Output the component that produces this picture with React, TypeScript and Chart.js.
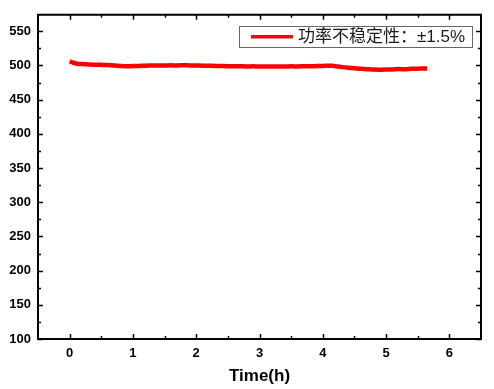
import React, { useEffect, useRef } from "react";
import { Chart, registerables } from "chart.js";

Chart.register(...registerables);

const TIME_H = [
  0.0, 0.03, 0.07, 0.12, 0.2, 0.3, 0.4, 0.5, 0.6, 0.7, 0.8, 0.9, 1.0, 1.1, 1.2,
  1.3, 1.4, 1.5, 1.6, 1.7, 1.8, 1.9, 2.0, 2.1, 2.2, 2.3, 2.4, 2.5, 2.6, 2.7,
  2.8, 2.9, 3.0, 3.1, 3.2, 3.3, 3.4, 3.5, 3.6, 3.7, 3.8, 3.9, 4.0, 4.1, 4.15,
  4.2, 4.3, 4.4, 4.5, 4.6, 4.7, 4.8, 4.9, 5.0, 5.1, 5.2, 5.3, 5.4, 5.5, 5.6,
  5.65,
];
const POWER = [
  506, 505, 503.5, 502.5, 502, 501.5, 501, 500.8, 500.5, 499.8, 499.2, 498.8,
  499, 499.3, 499.6, 499.8, 500, 500, 500.1, 500, 500.2, 500, 499.8, 499.6,
  499.5, 499.3, 499, 498.8, 498.9, 498.7, 498.5, 498.6, 498.4, 498.5, 498.3,
  498.5, 498.4, 498.6, 498.5, 498.7, 498.8, 499, 499.2, 499.5, 499.4, 498.8,
  497.5, 496.5, 495.8, 495, 494.5, 494, 493.8, 493.9, 494.2, 494.6, 494.5, 495,
  495.3, 495.6, 495.5,
];
const SERIES_LABEL = "功率不稳定性：±1.5%";
const X_TICKS = [0, 1, 2, 3, 4, 5, 6];
const X_MINOR = [-0.5, 0.5, 1.5, 2.5, 3.5, 4.5, 5.5, 6.5];
const Y_TICKS = [100, 150, 200, 250, 300, 350, 400, 450, 500, 550];
const Y_MINOR = [125, 175, 225, 275, 325, 375, 425, 475, 525, 575];
const X_TITLE = "Time(h)";

const TICK_FONT = { family: "'Liberation Sans', Arial, sans-serif", size: 13, weight: "bold" as const };

const framePlugin = {
  id: "frameTicks",
  afterDraw(chart: any) {
    const { ctx, chartArea } = chart;
    const { left, right, top, bottom } = chartArea;
    const xs = chart.scales.x;
    const ys = chart.scales.y;
    ctx.save();
    ctx.strokeStyle = "#000";
    ctx.lineWidth = 2;
    ctx.beginPath();
    ctx.moveTo(left - 1, top);
    ctx.lineTo(right, top);
    ctx.lineTo(right, bottom + 1);
    ctx.stroke();
    ctx.lineWidth = 1.5;
    ctx.beginPath();
    const major = 5;
    const minor = 3;
    X_TICKS.forEach((v) => {
      const p = Math.round(xs.getPixelForValue(v)) + 0.5;
      ctx.moveTo(p, bottom);
      ctx.lineTo(p, bottom - major);
      ctx.moveTo(p, top);
      ctx.lineTo(p, top + major);
    });
    X_MINOR.forEach((v) => {
      const p = Math.round(xs.getPixelForValue(v)) + 0.5;
      if (p <= left + 1 || p >= right - 1) return;
      ctx.moveTo(p, bottom);
      ctx.lineTo(p, bottom - minor);
      ctx.moveTo(p, top);
      ctx.lineTo(p, top + minor);
    });
    Y_TICKS.forEach((v) => {
      const p = Math.round(ys.getPixelForValue(v)) + 0.5;
      ctx.moveTo(left, p);
      ctx.lineTo(left + major, p);
      ctx.moveTo(right, p);
      ctx.lineTo(right - major, p);
    });
    Y_MINOR.forEach((v) => {
      const p = Math.round(ys.getPixelForValue(v)) + 0.5;
      if (p <= top + 1 || p >= bottom - 1) return;
      ctx.moveTo(left, p);
      ctx.lineTo(left + minor, p);
      ctx.moveTo(right, p);
      ctx.lineTo(right - minor, p);
    });
    ctx.stroke();
    ctx.restore();
  },
};

const legendPlugin = {
  id: "insideLegend",
  afterDraw(chart: any) {
    const { ctx, chartArea } = chart;
    const ds = chart.data.datasets[0];
    ctx.save();
    ctx.font = "17px 'Liberation Sans', Arial, 'Noto Sans CJK SC', sans-serif";
    const tw = ctx.measureText(ds.label).width;
    const boxRight = chartArea.right - 9;
    const boxTop = chartArea.top + 11;
    const boxH = 21;
    const lineLen = 42;
    const boxW = 12 + lineLen + 5 + tw + 7;
    const boxLeft = boxRight - boxW;
    ctx.strokeStyle = "#666";
    ctx.lineWidth = 1;
    ctx.strokeRect(Math.round(boxLeft) + 0.5, Math.round(boxTop) + 0.5, Math.round(boxW), boxH);
    const cy = boxTop + boxH / 2 + 0.5;
    ctx.strokeStyle = ds.borderColor;
    ctx.lineWidth = 3.5;
    ctx.beginPath();
    ctx.moveTo(boxLeft + 12, cy);
    ctx.lineTo(boxLeft + 12 + lineLen, cy);
    ctx.stroke();
    ctx.fillStyle = "#1a1a1a";
    ctx.textBaseline = "middle";
    ctx.textAlign = "left";
    ctx.fillText(ds.label, boxLeft + 12 + lineLen + 5, cy + 1);
    ctx.restore();
  },
};

export default function App() {
  const ref = useRef<HTMLCanvasElement | null>(null);
  useEffect(() => {
    if (!ref.current) return;
    const chart = new Chart(ref.current, {
      type: "line",
      data: {
        datasets: [
          {
            label: SERIES_LABEL,
            data: TIME_H.map((t, i) => ({ x: t, y: POWER[i] })),
            borderColor: "#ff0000",
            backgroundColor: "#ff0000",
            borderWidth: 4.5,
            pointRadius: 0,
            tension: 0.3,
            fill: false,
          },
        ],
      },
      options: {
        responsive: false,
        animation: false,
        layout: { padding: { top: 11, right: 13, left: 0, bottom: 0 } },
        plugins: { legend: { display: false }, tooltip: { enabled: false } },
        scales: {
          x: {
            type: "linear",
            min: -0.5,
            max: 6.5,
            afterBuildTicks: (s: any) => {
              s.ticks = X_TICKS.map((v) => ({ value: v }));
            },
            afterFit: (s: any) => {
              s.height = 50;
            },
            grid: { display: false, drawTicks: false },
            border: { display: true, color: "#000", width: 2 },
            ticks: { padding: 7, color: "#000", font: TICK_FONT, maxRotation: 0 },
            title: {
              display: true,
              text: X_TITLE,
              color: "#000",
              font: { family: "'Liberation Sans', Arial, sans-serif", size: 17, weight: "bold" },
              padding: { top: 0, bottom: 2 },
            },
          },
          y: {
            type: "linear",
            min: 100,
            max: 574,
            afterBuildTicks: (s: any) => {
              s.ticks = Y_TICKS.map((v) => ({ value: v }));
            },
            afterFit: (s: any) => {
              s.width = 38;
            },
            grid: { display: false, drawTicks: false },
            border: { display: true, color: "#000", width: 2 },
            ticks: { padding: 7, color: "#000", font: TICK_FONT },
          },
        },
      },
      plugins: [framePlugin, legendPlugin],
    } as any);
    return () => chart.destroy();
  }, []);
  return (
    <div style={{ position: "fixed", left: 0, top: 0, width: 494, height: 389, background: "#fff" }}>
      <canvas ref={ref} width={494} height={389} style={{ display: "block" }} />
    </div>
  );
}
